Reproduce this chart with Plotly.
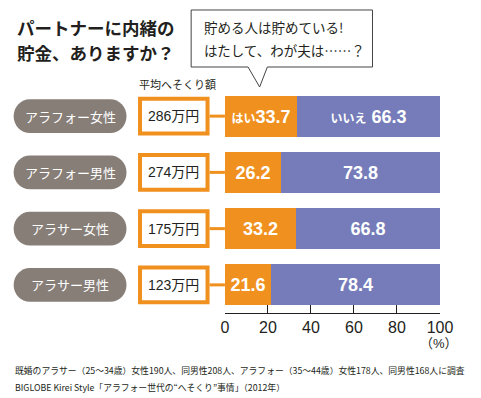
import plotly.graph_objects as go

groups = ["アラフォー女性", "アラフォー男性", "アラサー女性", "アラサー男性"]
amounts = ["286万円", "274万円", "175万円", "123万円"]
yes_vals = [33.7, 26.2, 33.2, 21.6]
no_vals = [66.3, 73.8, 66.8, 78.4]
x_ticks = [0, 20, 40, 60, 80, 100]

W, H = 481, 398
T, B = 88, 85
PLOT_H = H - T - B
ORANGE = "#F0901E"
PURPLE = "#757CB9"
PILLGRAY = "#877E78"
DARK = "#231f20"
JP = "Noto Sans CJK JP"
NUM = "Liberation Sans, Noto Sans CJK JP"

def px(x):
    return x / W

def py(y):
    return (H - B - y) / PLOT_H

ypos = list(range(len(groups)))

yes_text = []
no_text = []
for i, (a, b) in enumerate(zip(yes_vals, no_vals)):
    if i == 0:
        yes_text.append("<span style='font-size:12px'>はい</span>%.1f" % a)
        no_text.append("<span style='font-size:12px'>いいえ</span> %.1f" % b)
    else:
        yes_text.append("%.1f" % a)
        no_text.append("%.1f" % b)

fig = go.Figure()
fig.add_trace(go.Bar(y=ypos, x=yes_vals, orientation="h", marker=dict(color=ORANGE, line=dict(width=0)),
                     width=0.73, text=yes_text, textposition="inside", insidetextanchor="middle",
                     textangle=0, textfont=dict(color="white", size=18, family=NUM, weight="bold"),
                     hoverinfo="skip"))
fig.add_trace(go.Bar(y=ypos, x=no_vals, orientation="h", marker=dict(color=PURPLE, line=dict(width=0)),
                     width=0.73, text=no_text, textposition="inside", insidetextanchor="middle",
                     textangle=0, textfont=dict(color="white", size=18, family=NUM, weight="bold"),
                     hoverinfo="skip"))

shapes = []
annotations = []

def rounded_path(x0, x1, yc, h):
    r_px = h * (PLOT_H / 4.0)
    k = 0.5523
    xa = x0 + r_px
    xb = x1 - r_px
    yt = yc - h
    yb = yc + h
    def P(x, y):
        return "%f,%f" % (px(x), y)
    d = "M %s L %s " % (P(xa, yt), P(xb, yt))
    d += "C %s %s %s " % (P(xb + k * r_px, yt), P(x1, yc - k * h), P(x1, yc))
    d += "C %s %s %s " % (P(x1, yc + k * h), P(xb + k * r_px, yb), P(xb, yb))
    d += "L %s " % P(xa, yb)
    d += "C %s %s %s " % (P(xa - k * r_px, yb), P(x0, yc + k * h), P(x0, yc))
    d += "C %s %s %s Z" % (P(x0, yc - k * h), P(xa - k * r_px, yt), P(xa, yt))
    return d

for i, (g, amt) in enumerate(zip(groups, amounts)):
    shapes.append(dict(type="path", xref="paper", yref="y", path=rounded_path(10, 127, i, 0.30),
                       fillcolor=PILLGRAY, line=dict(width=0), layer="above"))
    annotations.append(dict(xref="paper", yref="y", x=px(68.5), y=i, text=g, showarrow=False,
                            font=dict(family=JP, size=13, color="white"), xanchor="center", yanchor="middle"))
    shapes.append(dict(type="rect", xref="paper", yref="y", x0=px(141), x1=px(211), y0=i - 0.31, y1=i + 0.31,
                       fillcolor="white", line=dict(color=ORANGE, width=4), layer="above"))
    shapes.append(dict(type="line", xref="paper", yref="y", x0=px(213), x1=px(229), y0=i, y1=i,
                       line=dict(color=ORANGE, width=3), layer="above"))
    annotations.append(dict(xref="paper", yref="y", x=px(176), y=i, text=amt, showarrow=False,
                            font=dict(family=NUM, size=14, color=DARK), xanchor="center", yanchor="middle"))

bub = [(194, 10), (382, 10), (382, 67), (273, 67), (265, 87), (253, 67), (194, 67)]
d = "M " + " L ".join("%f,%f" % (px(x), py(y)) for x, y in bub) + " Z"
shapes.append(dict(type="path", xref="paper", yref="paper", path=d, fillcolor="white",
                   line=dict(color="#444", width=1)))

def txt(x, y, s, size, color=DARK, family=JP, anchor="left", weight="normal"):
    annotations.append(dict(xref="paper", yref="paper", x=px(x), y=py(y), text=s, showarrow=False,
                            xanchor=anchor, yanchor="middle",
                            font=dict(family=family, size=size, color=color, weight=weight)))

txt(11, 27, "パートナーに内緒の", 17.5, weight="bold")
txt(11, 52, "貯金、ありますか？", 17.5, weight="bold")
txt(205, 27, "貯める人は貯めている!", 13.5)
txt(205, 50, "はたして、わが夫は……？", 13.5)
txt(138, 84, "平均へそくり額", 11)
txt(451, 343, "（%）", 13, anchor="center", family=NUM)
txt(9, 370, "既婚のアラサー（25～34歳）女性190人、同男性208人、アラフォー（35～44歳）女性178人、同男性168人に調査", 8.8)
txt(9, 387, "BIGLOBE Kirei Style「アラフォー世代の“へそくり”事情」（2012年）", 8.8)

fig.update_layout(
    width=W, height=H, barmode="stack", showlegend=False,
    margin=dict(l=0, r=0, t=T, b=B, pad=0),
    paper_bgcolor="white", plot_bgcolor="white",
    xaxis=dict(domain=[px(229), px(452)], range=[0, 100], tickvals=x_ticks, ticks="inside", ticklen=8,
               tickwidth=1.3, tickcolor=DARK, showline=True, linecolor=DARK, linewidth=1.3,
               showgrid=False, zeroline=False, fixedrange=True,
               tickfont=dict(family=NUM, size=16, color=DARK)),
    yaxis=dict(range=[3.5, -0.5], visible=False, fixedrange=True),
    shapes=shapes, annotations=annotations, bargap=0,
)

fig.write_html("out.html", config={"displayModeBar": False})
with open("out.html", "r", encoding="utf-8") as f:
    html = f.read()
html = html.replace("<head>", "<head><style>html,body{margin:0;padding:0;overflow:hidden;}</style>", 1)
with open("out.html", "w", encoding="utf-8") as f:
    f.write(html)
